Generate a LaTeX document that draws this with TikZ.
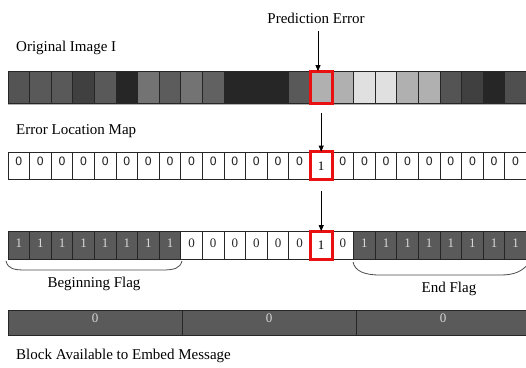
\documentclass[tikz,border=0pt]{standalone}
\usepackage{fontspec}
\setmainfont{Liberation Serif}
\newfontfamily\digitfont{DejaVu Sans}
\usetikzlibrary{arrows.meta}

\definecolor{blockgray}{HTML}{5A5A5A}
\definecolor{digitgray}{HTML}{D8D8D8}
\definecolor{markred}{HTML}{E81010}

\tikzset{
    cell/.style={draw=black!85, line width=0.8pt, minimum width=21.6pt, inner sep=0pt},
    pixel/.style={cell, minimum height=32pt},
    mapcell/.style={cell, minimum height=27.5pt, fill=white, text=black!85,
        font=\digitfont\fontsize{11.5}{11.5}\selectfont, text height=8pt, text depth=8pt},
    flagcell/.style={cell, minimum height=27.5pt, fill=blockgray, text=digitgray,
        font=\fontsize{13}{13}\selectfont, text height=9pt, text depth=4pt},
    zerocell/.style={cell, minimum height=27.5pt, fill=white, text=black!85,
        font=\fontsize{13}{13}\selectfont, text height=9pt, text depth=4pt},
    onecell/.style={cell, text=black, font=\fontsize{13}{13}\selectfont},
    blockcell/.style={draw=black!85, line width=0.8pt, minimum width=174pt, minimum height=24.5pt,
        inner sep=0pt, fill=blockgray, text=digitgray,
        font=\fontsize{13}{13}\selectfont, text height=9pt, text depth=10pt},
    marked/.style={draw=markred, line width=3pt},
    lbl/.style={font=\fontsize{15}{18}\selectfont, inner sep=0pt},
    pointer/.style={line width=0.8pt, -{Triangle[length=6pt, width=5pt]}},
    flagbrace/.style={draw=black!70, line width=0.8pt}
}

\begin{document}
\begin{tikzpicture}[x=1pt, y=-1pt]

        \clip (0,0) rectangle (526,367);
        \fill[white] (0,0) rectangle (526,367);

        % Labels.
        \node[lbl] (pred) at (316,18) {Prediction Error};
        \node[lbl, anchor=west] (orig) at (16,48) {Original Image I};
        \node[lbl, anchor=west] (elm) at (16,131) {Error Location Map};
        \node[lbl, anchor=west] (avail) at (16,356) {Block Available to Embed Message};

        % Original image, one grey level per pixel.
        \foreach \i/\g in {0/33,1/35,2/35,3/25,4/35,5/15,6/45,7/36,8/45,9/38,10/15,11/15,
                12/15,13/35,14/69,15/69,16/88,17/88,18/69,19/69,20/33,21/25,22/15,23/31}
            \node[pixel, fill=white!\g!black] (img-\i) at (18.8+21.6*\i, 87.5) {};
        \draw[black!30, line width=1pt] ([yshift=-1pt]img-0.south west) -- ([yshift=-1pt]img-23.south east);

        % Error location map.
        \foreach \i in {0,...,13,15,16,...,23}
            \node[mapcell] (map-\i) at (18.8+21.6*\i, 165.75) {0};
        \node[onecell, fill=white, minimum height=27.5pt] (map-14) at (18.8+21.6*14, 165.75) {1};

        % Flags around the payload.
        \foreach \i in {0,...,7}
            \node[flagcell] (flag-\i) at (18.8+21.6*\i, 245.25) {1};
        \foreach \i in {16,...,23}
            \node[flagcell] (flag-\i) at (18.8+21.6*\i, 245.25) {1};
        \foreach \i in {8,...,13,15}
            \node[zerocell] (flag-\i) at (18.8+21.6*\i, 245.25) {0};
        \node[onecell, fill=white, minimum height=27.5pt] (flag-14) at (18.8+21.6*14, 245.25) {1};

        % Highlight the predicted pixel.
        \draw[marked] (img-14.north west) rectangle (img-14.south east);
        \draw[marked] (map-14.north west) rectangle (map-14.south east);
        \draw[marked] (flag-14.north west) rectangle (flag-14.south east);

        % Blocks.
        \foreach \j/\x in {0/95,1/269,2/443}
            \node[blockcell] (blk-\j) at (\x, 322.75) {0};

        % Braces under the flags.
        \draw[flagbrace] (6,261) .. controls (8,269) and (14,270) .. (26,270)
            -- (162,270) .. controls (175,270) and (180,268) .. (182,261);
        \draw[flagbrace] (353,262) .. controls (355,271) and (364,275) .. (380,275)
            -- (500,275) .. controls (514,275) and (522,272) .. (530,262);
        \node[lbl] (begin) at (94,284) {Beginning Flag};
        \node[lbl] (end) at (449,289) {End Flag};

        % Arrows.
        \coordinate (pe) at (318,31);
        \draw[pointer] (pe) -- (pe |- img-14.north);
        \draw[pointer] ([yshift=-9pt]img-14.south) -- (map-14.north);
        \draw[pointer] ([yshift=-11pt]map-14.south) -- (flag-14.north);
    \end{tikzpicture}
\end{document}
